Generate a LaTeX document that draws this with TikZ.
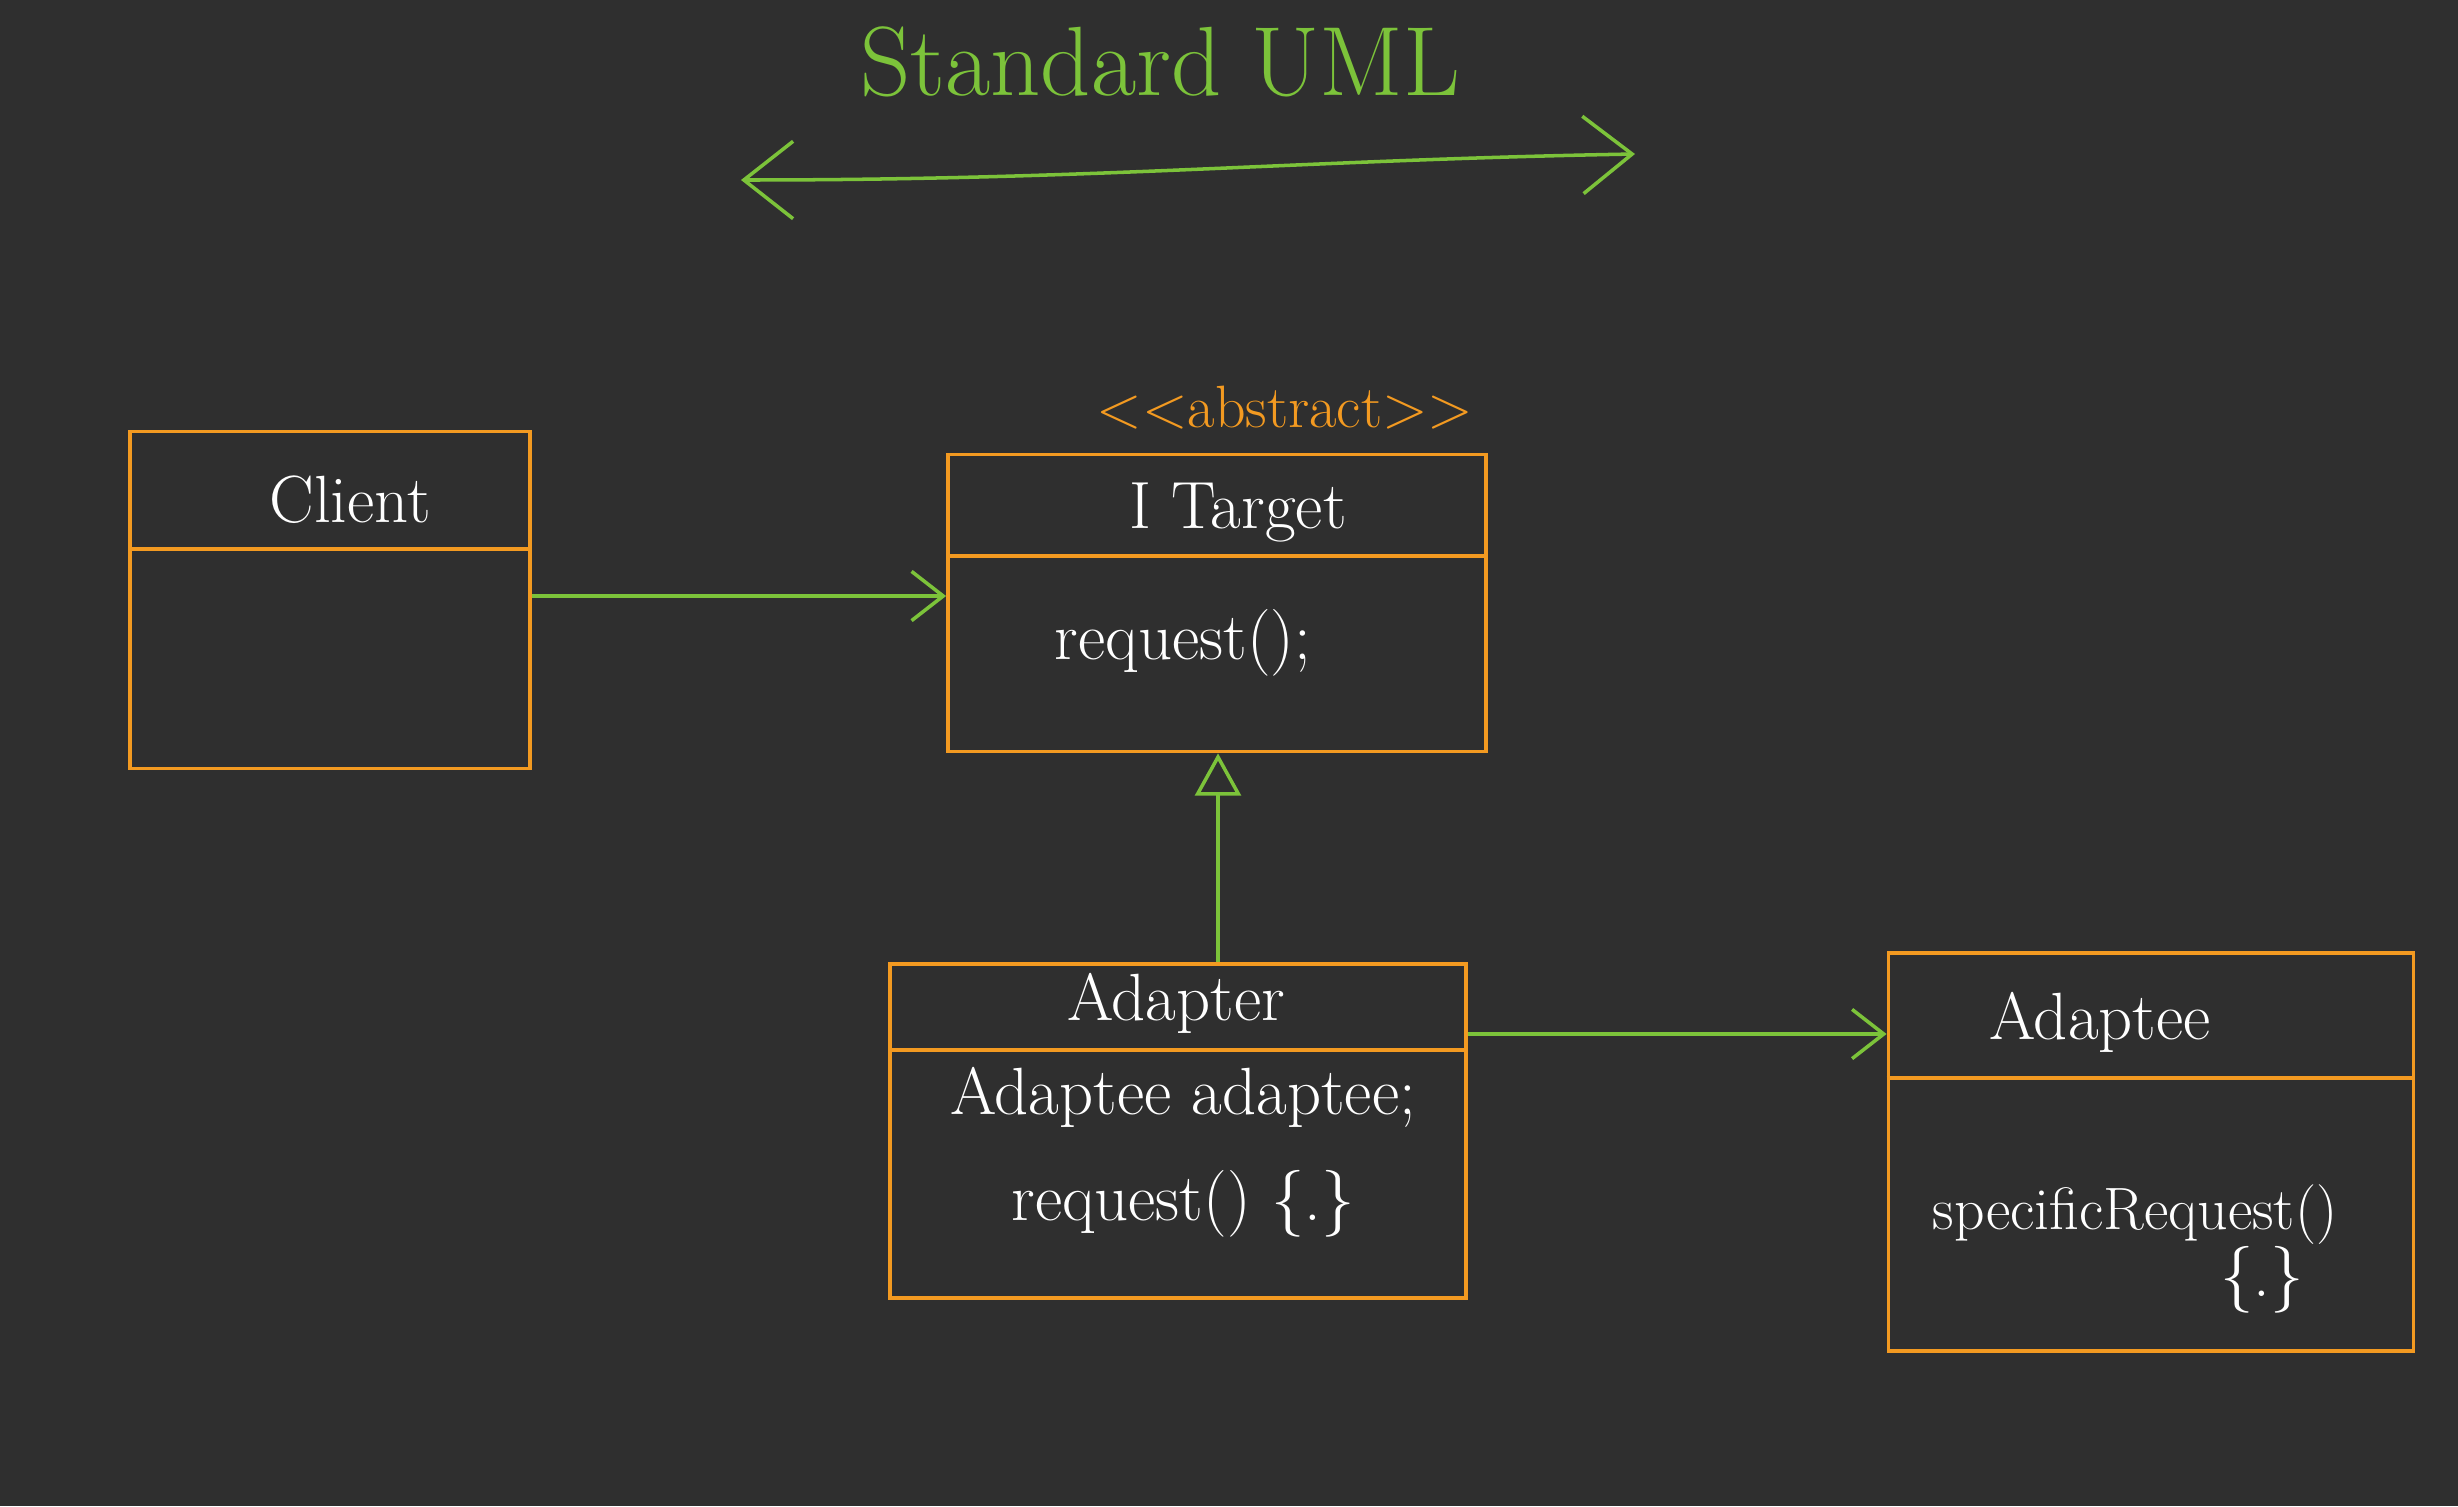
\documentclass[tikz,border=0pt]{standalone}
\usetikzlibrary{arrows.meta}
\definecolor{board}{HTML}{2F2F2F}
\definecolor{pen}{HTML}{F39A21}
\definecolor{link}{HTML}{7CC33A}
\tikzset{
  umlbox/.style={draw=pen, line width=1pt, rectangle, inner sep=0pt},
  umlrule/.style={draw=pen, line width=1pt},
  umltext/.style={text=white, font=\fontsize{19}{23}\selectfont},
  assoc/.style={draw=link, line width=1pt, -{Straight Barb[length=9pt,width=14pt]}},
  realize/.style={draw=link, line width=1pt, -{Triangle[open,length=12pt,width=13pt]}}
}
\begin{document}
\begin{tikzpicture}[x=0.01cm, y=-0.01cm]
  % Background of the board
  \fill[board] (0,0) rectangle (2458,1506);
  \useasboundingbox (0,0) rectangle (2458,1506);

  % Title and the double arrow under it
  \node[text=link, font=\fontsize{28}{32}\selectfont] (title) at (1160,62) {Standard UML};
  \coordinate (L) at (741,180);
  \coordinate (R) at (1635,154);
  \draw[link, line width=1pt, {Straight Barb[length=14pt,width=22pt]}-{Straight Barb[length=14pt,width=22pt]}]
    (L) .. controls (1100,180) and (1300,160) .. (R);

  % Draw the class boxes
  \node[umlbox, minimum width=4.0cm, minimum height=3.37cm] (client) at (330,600) {};
  \node[umlbox, minimum width=5.38cm, minimum height=2.97cm] (itarget) at (1217,603) {};
  \node[umlbox, minimum width=5.76cm, minimum height=3.34cm] (adapter) at (1178,1131) {};
  \node[umlbox, minimum width=5.25cm, minimum height=3.98cm] (adaptee) at (2151,1152) {};

  % Draw the dividers under the class names
  \draw[umlrule] (client.west |- 0,549) -- (client.east |- 0,549);
  \draw[umlrule] (itarget.west |- 0,556) -- (itarget.east |- 0,556);
  \draw[umlrule] (adapter.west |- 0,1050) -- (adapter.east |- 0,1050);
  \draw[umlrule] (adaptee.west |- 0,1078) -- (adaptee.east |- 0,1078);

  % Add the texts of the classes
  \node[text=pen, font=\fontsize{17}{21}\selectfont] (stereo) at (1285,408)
    {<\kern0pt<abstract>\kern0pt>};
  \node[umltext] (clientname) at (350,500) {Client};
  \node[umltext] (itargetname) at (1238,512) {I Target};
  \node[umltext] (itargetop) at (1183,643) {request();};
  \node[umltext] (adaptername) at (1176,1003) {Adapter};
  \node[umltext] (adapterfield) at (1183,1097) {Adaptee adaptee;};
  \node[umltext] (adapterop) at (1183,1204) {request() \{.\}};
  \node[umltext] (adapteename) at (2100,1022) {Adaptee};
  \node[umltext, font=\fontsize{17}{21}\selectfont] (adapteeop) at (2135,1215) {specificRequest()};
  \node[umltext] (adapteebody) at (2262,1280) {\{.\}};

  % Draw the connectors
  \draw[assoc] (client.east |- 0,596) -- (itarget.west |- 0,596);
  \draw[realize] (adapter.north -| 1218,0) -- (itarget.south -| 1218,0);
  \draw[assoc] (adapter.east |- 0,1034) -- (adaptee.west |- 0,1034);

\end{tikzpicture}
\end{document}
